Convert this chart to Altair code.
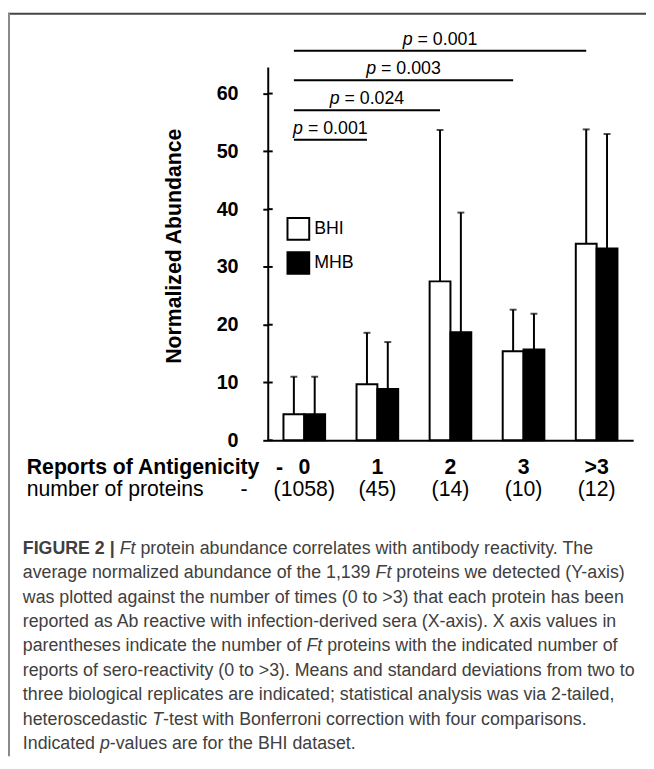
import altair as alt
import pandas as pd

# ---------------- data ----------------
categories = ["0", "1", "2", "3", ">3"]
protein_counts = ["(1058)", "(45)", "(14)", "(10)", "(12)"]
series_names = ["BHI", "MHB"]
bhi_mean = [4.5, 9.7, 27.5, 15.4, 34.0]
bhi_sd = [6.5, 8.9, 26.2, 7.2, 19.8]
mhb_mean = [4.5, 8.9, 18.7, 15.7, 33.2]
mhb_sd = [6.5, 8.1, 20.7, 6.2, 19.8]

comp_start = [0, 0, 0, 0]
comp_end = [1, 2, 3, 4]
comp_level = [52.0, 57.1, 62.3, 67.4]
comp_p = ["0.001", "0.024", "0.003", "0.001"]

y_ticks = [0, 10, 20, 30, 40, 50, 60]
y_max = 64.6

caption = [
    [("FIGURE 2 | ", "bold"), ("Ft", "italic"), (" protein abundance correlates with antibody reactivity.  The", "normal")],
    [("average normalized abundance of the 1,139 ", "normal"), ("Ft", "italic"), (" proteins we detected (Y-axis)", "normal")],
    [("was plotted against the number of times (0 to >3) that each protein has been", "normal")],
    [("reported as Ab reactive with infection-derived sera (X-axis). X axis values in", "normal")],
    [("parentheses indicate the number of ", "normal"), ("Ft", "italic"), (" proteins with the indicated number of", "normal")],
    [("reports of sero-reactivity (0 to >3). Means and standard deviations from two to", "normal")],
    [("three biological replicates are indicated; statistical analysis was via 2-tailed,", "normal")],
    [("heteroscedastic ", "normal"), ("T", "italic"), ("-test with Bonferroni correction with four comparisons.", "normal")],
    [("Indicated ", "normal"), ("p", "italic"), ("-values are for the BHI dataset.", "normal")],
]

# ---------------- layout / style ----------------
FONT = "Liberation Sans"
W, H = 370, 378
PAD = {"left": 263, "top": 55, "right": 13, "bottom": 320}
PI = 0.43                      # band paddingInner
BHI_OFF = (1 - PI) / 4         # BHI bar centre offset from group centre (in steps)

# Arial-compatible advance widths (per 1000 em) for laying out mixed-style text
_reg = {' ': 278, '!': 278, '"': 355, '#': 556, '$': 556, '%': 889, '&': 667, "'": 191,
        '(': 333, ')': 333, '*': 389, '+': 584, ',': 278, '-': 333, '.': 278, '/': 278,
        ':': 278, ';': 278, '<': 584, '=': 584, '>': 584, '?': 556, '|': 260}
for d in "0123456789":
    _reg[d] = 556
for ch, w in zip("ABCDEFGHIJKLMNOPQRSTUVWXYZ",
                 [667, 667, 722, 722, 667, 611, 778, 722, 278, 500, 667, 556, 833, 722, 778, 667,
                  778, 722, 667, 611, 722, 667, 944, 667, 667, 611]):
    _reg[ch] = w
for ch, w in zip("abcdefghijklmnopqrstuvwxyz",
                 [556, 556, 500, 556, 556, 278, 556, 556, 222, 222, 500, 222, 833, 556, 556, 556,
                  556, 333, 500, 278, 556, 500, 722, 500, 500, 500]):
    _reg[ch] = w
_bold = dict(_reg)
_bold.update({'|': 280, 'J': 556, 'K': 722, 'L': 611, 'A': 722, 'B': 722})


def tw(s, size, bold=False):
    t = _bold if bold else _reg
    return sum(t.get(c, 556) for c in s) * size / 1000.0


one = pd.DataFrame({"k": [0]})

# ---------------- main data frame ----------------
rows = []
for i, c in enumerate(categories):
    rows.append({"cat": c, "series": "BHI", "mean": bhi_mean[i], "sd": bhi_sd[i]})
    rows.append({"cat": c, "series": "MHB", "mean": mhb_mean[i], "sd": mhb_sd[i]})
df = pd.DataFrame(rows)

yscale = alt.Scale(domain=[0, y_max], nice=False, zero=True)

x_main = alt.X(
    "cat:N", sort=categories,
    scale=alt.Scale(paddingInner=PI, paddingOuter=PI / 2),
    axis=alt.Axis(title=None, labelAngle=0, ticks=False, tickSize=0,
                  labelFont=FONT, labelFontSize=21.5, labelFontWeight="bold",
                  labelColor="black", labelBaseline="alphabetic", labelPadding=34,
                  domainColor="black", domainWidth=2),
)
x_plain = alt.X("cat:N", sort=categories)

bars = alt.Chart(df).mark_bar(stroke="black", strokeWidth=2).encode(
    x=x_main,
    xOffset=alt.XOffset("series:N", sort=series_names),
    y=alt.Y("mean:Q", scale=yscale,
            axis=alt.Axis(values=y_ticks, title="Normalized Abundance", grid=False,
                          labelFont=FONT, labelFontSize=20, labelFontWeight="bold",
                          labelColor="black", labelPadding=25,
                          tickSize=5, tickWidth=2, tickColor="black",
                          domainColor="black", domainWidth=2,
                          titleFont=FONT, titleFontSize=21.5, titleFontWeight="bold",
                          titleColor="black", titleAngle=270, titleBaseline="alphabetic",
                          titleAlign="center", titleX=-88, titleY=181)),
    fill=alt.Fill("series:N", scale=alt.Scale(domain=series_names, range=["white", "black"]),
                  legend=alt.Legend(title=None, orient="none", legendX=19, legendY=152,
                                    symbolType="square", symbolSize=484,
                                    symbolStrokeColor="black", symbolStrokeWidth=2,
                                    labelFont=FONT, labelFontSize=18, labelColor="black",
                                    labelOffset=4, rowPadding=4.5, padding=0)),
)

errs = alt.Chart(df).transform_calculate(top="datum.mean + datum.sd").mark_rule(
    color="black", strokeWidth=2).encode(
    x=x_plain, xOffset=alt.XOffset("series:N", sort=series_names),
    y=alt.Y("mean:Q", scale=yscale), y2="top:Q")

caps = alt.Chart(df).transform_calculate(top="datum.mean + datum.sd").mark_tick(
    color="black", thickness=2, size=7).encode(
    x=x_plain, xOffset=alt.XOffset("series:N", sort=series_names),
    y=alt.Y("top:Q", scale=yscale))

inner_ticks = alt.Chart(pd.DataFrame({"v": y_ticks})).mark_rule(
    color="black", strokeWidth=2).encode(
    y=alt.Y("v:Q", scale=yscale), x=alt.value(0), x2=alt.value(5))

row2 = alt.Chart(pd.DataFrame({"cat": categories, "n": protein_counts})).mark_text(
    font=FONT, fontSize=21.5, color="black", baseline="alphabetic").encode(
    x=x_plain, y=alt.value(434.5), text="n:N")

band_layer = alt.layer(bars, errs, caps, inner_ticks, row2)

# ---------------- significance brackets ----------------
sig_df = pd.DataFrame({"start": comp_start, "end": comp_end, "level": comp_level,
                       "label": ["= " + p for p in comp_p]})
P_SIZE = 18
full_w = tw("p = 0.001", P_SIZE)
p_w = tw("p ", P_SIZE)
xq = alt.Scale(domain=[-0.5, 4.5], nice=False, zero=False)
sig = alt.Chart(sig_df).transform_calculate(
    x1=f"datum.start - {BHI_OFF}", x2=f"datum.end - {BHI_OFF}",
    xm=f"(datum.start + datum.end) / 2 - {BHI_OFF}")
sig_rules = sig.mark_rule(color="black", strokeWidth=2).encode(
    x=alt.X("x1:Q", scale=xq, axis=None), x2="x2:Q",
    y=alt.Y("level:Q", scale=yscale))
sig_p = sig.mark_text(font=FONT, fontSize=P_SIZE, fontStyle="italic", color="black",
                      align="left", baseline="alphabetic", dx=-full_w / 2, dy=-6).encode(
    x=alt.X("xm:Q", scale=xq, axis=None), y=alt.Y("level:Q", scale=yscale), text=alt.value("p"))
sig_rest = sig.mark_text(font=FONT, fontSize=P_SIZE, color="black",
                         align="left", baseline="alphabetic", dx=-full_w / 2 + p_w, dy=-6).encode(
    x=alt.X("xm:Q", scale=xq, axis=None), y=alt.Y("level:Q", scale=yscale), text="label:N")
annot_layer = alt.layer(sig_rules, sig_p, sig_rest)

# ---------------- static labels ----------------
def label(text, x, y, size, weight="normal", style="normal", color="black", align="left"):
    return alt.Chart(one).mark_text(font=FONT, fontSize=size, fontWeight=weight,
                                    fontStyle=style, color=color, align=align,
                                    baseline="alphabetic").encode(
        x=alt.value(x), y=alt.value(y), text=alt.value(text))


statics = [
    label("Reports of Antigenicity", -244, 412, 21.5, weight="bold"),
    label("-", 12, 412, 21.5, weight="bold", align="center"),
    label("number of proteins", -244, 434.5, 21.5),
    label("-", -24, 434.5, 21.5, align="center"),
]

# caption (segments laid out with Arial metrics; leading blanks become offsets)
CAP_SIZE = 18
CAP_X0 = -248
CAP_Y0 = 556 - 63
CAP_DY = 24.7
CAP_COLOR = "#404040"
for li, segs in enumerate(caption):
    xx = CAP_X0
    for text, st in segs:
        bold = st == "bold"
        stripped = text.lstrip(" ")
        lead = tw(text[:len(text) - len(stripped)], CAP_SIZE, bold)
        statics.append(label(stripped.rstrip(" "), xx + lead, CAP_Y0 + li * CAP_DY, CAP_SIZE,
                             weight="bold" if bold else "normal",
                             style="italic" if st == "italic" else "normal",
                             color=CAP_COLOR))
        xx += tw(text, CAP_SIZE, bold)

# frame lines
frame_top = alt.Chart(one).mark_rule(color="#444444", strokeWidth=2).encode(
    x=alt.value(-263), x2=alt.value(W + PAD["right"]), y=alt.value(-54))
frame_left = alt.Chart(one).mark_rule(color="#888888", strokeWidth=2).encode(
    x=alt.value(-262), y=alt.value(-55), y2=alt.value(H + PAD["bottom"]))

chart = alt.layer(band_layer, annot_layer, frame_top, frame_left, *statics).resolve_scale(
    x="independent"
).properties(
    width=W, height=H, padding=PAD, autosize=alt.AutoSizeParams(type="none"),
    background="white"
).configure_view(stroke=None)

chart.save("out.html", embed_options={"renderer": "svg", "actions": False})
